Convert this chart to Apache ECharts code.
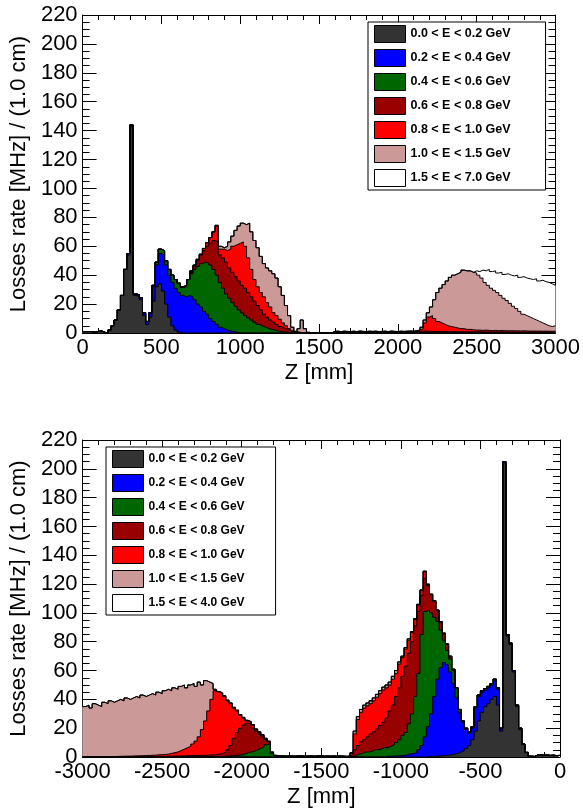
<!DOCTYPE html>
<html>
<head>
<meta charset="utf-8">
<script src="https://cdn.jsdelivr.net/npm/echarts@6/dist/echarts.min.js"></script>
<style>
  html, body { margin: 0; padding: 0; background: #fff; }
  #chart { width: 583px; height: 812px; }
</style>
</head>
<body>
<div id="chart"></div>
<script>
  // histograms in 20 mm bins, 150 bins per panel
  var BIN = 20;
  var NBINS = 150;

  var namesTop = ['0.0 < E < 0.2 GeV', '0.2 < E < 0.4 GeV', '0.4 < E < 0.6 GeV', '0.6 < E < 0.8 GeV',
    '0.8 < E < 1.0 GeV', '1.0 < E < 1.5 GeV', '1.5 < E < 7.0 GeV'];
  var namesBot = ['0.0 < E < 0.2 GeV', '0.2 < E < 0.4 GeV', '0.4 < E < 0.6 GeV', '0.6 < E < 0.8 GeV',
    '0.8 < E < 1.0 GeV', '1.0 < E < 1.5 GeV', '1.5 < E < 4.0 GeV'];
  var colors = ['#333333', '#0000ff', '#006600', '#990000', '#ff0000', '#cc9999', '#ffffff'];

  // top edge of each band in the stack: [first bin, values...]
  // top panel, Z = 0 .. 3000 mm
  var topBlack = [[0, [1, 1, 1, 0.5, 1, 1.5, 0.5, 0, 2, 5, 9, 16, 26, 44, 54, 143, 26, 25, 23, 12, 6, 11, 22, 32,
    34, 29, 20, 11, 5, 2, 0.5]]];
  var topBlue = [[14, [55, 144, 27, 26.5, 24.5, 14, 8, 14, 32, 47, 55, 54, 47, 40, 35, 31, 28, 26, 25, 26, 25, 23, 20,
    18, 15, 13, 10, 8, 6, 4, 3, 2, 1.5, 1, 0.5]]];
  var topGreen = [[22, [33, 49, 58, 57, 50, 44, 40, 37, 34, 31.5, 32, 37, 41, 44, 46, 48, 49, 48.5, 47, 44, 40, 35,
    31, 27, 24, 21, 18.5, 16, 14, 12, 10.5, 9, 7.5, 6, 5, 4, 3.2, 2.5, 2, 1.5, 1, 0.7, 0.5]],
    [79, [0.5, 0.6, 0.5, 0.7, 0.5, 0.6, 0.6, 0.5, 0.7, 0.6, 0.5, 0.6, 0.7, 0.5, 0.6, 0.5, 0.6, 0.7, 0.5, 0.6, 0.5,
      0.6, 0.5, 0.6, 0.7, 0.5, 0.6, 0.5]]];
  var topDarkRed = [[30, [34.5, 32, 33, 37, 42, 46, 50, 54, 57, 60, 62, 64, 63, 54, 52, 49, 45, 42, 39, 36, 33, 31,
    28, 25, 22, 19, 16, 13, 11, 9, 7.5, 6, 4.5, 3.5, 2.5, 1.5, 1, 0.5]],
    [79, [0.9, 1, 0.8, 1, 0.9, 0.9, 1, 0.8, 1, 0.9, 0.8, 1, 0.9, 1, 0.9, 0.8, 1, 0.9, 1, 0.9, 0.8, 1, 0.9, 1, 1,
      0.9, 1.1, 1.2]],
    [107, [1.2, 1.3, 1.2, 1.1, 1, 1, 0.9, 1, 0.9, 0.9, 1, 0.8, 0.9, 0.9, 0.8, 0.9, 0.8, 0.8, 0.9, 0.8, 0.7, 0.8,
      0.8, 0.7, 0.8, 0.7, 0.7, 0.8, 0.7, 0.7, 0.6, 0.7, 0.7, 0.6, 0.7, 0.6, 0.6, 0.7, 0.6, 0.6, 0.6, 0.5, 0.6]]];
  var topRed = [[34, [43, 47, 51, 54.5, 58.5, 62.5, 66, 70, 74, 58, 58, 57, 58, 60, 61, 62, 63, 60, 52, 44, 37, 32,
    28, 25, 21, 18, 14, 12, 9.5, 7, 5, 3, 1.5, 1, 0.5]],
    [79, [1.1, 1.2, 1, 1.2, 1.1, 1, 1.2, 1, 1.3, 1.1, 1, 1.2, 1.1, 1.2, 1, 1.1, 1.2, 1, 1.3, 1.1, 1, 1.2, 1.1, 1.2,
      1.3, 1.2, 1.5, 2]],
    [107, [3, 7, 11, 12, 10, 8, 7, 6, 5, 4.5, 4, 3.5, 3, 3, 2.5, 2.5, 2.2, 2, 2, 1.8, 2, 1.8, 1.7, 1.8, 1.6, 1.7,
      1.6, 1.5, 1.6, 1.5, 1.5, 1.4, 1.5, 1.4, 1.3, 1.4, 1.3, 1.3, 1.2, 1.3, 1.2, 1.2, 1.2]]];
  var topPink = [[42, [74.5, 60, 59, 60, 63, 67, 71, 74, 76, 75, 76, 70, 64, 59, 53, 48, 45, 43, 41, 38, 32, 26,
    19, 12, 4, 1, 3, 9, 3, 0.5]],
    [107, [4, 9, 14, 18, 23, 28, 31, 33.5, 36, 38.5, 40, 41, 42, 43.5, 43, 43, 42, 41.5, 40, 38, 35, 33, 31, 29.5,
      28, 26, 24, 22.5, 20.5, 18.5, 17, 15, 13, 12, 11, 10, 9, 8, 7, 6, 5, 4.5, 5]]];
  var topWhite = [[124, [43, 42.5, 43.5, 43, 44, 42.5, 43, 41.5, 42, 40.5, 41, 40, 39.5, 40, 38.5, 39, 38, 37.5,
    37, 37.5, 36, 36.5, 35.5, 35, 34, 33]]];

  // bottom panel, Z = -3000 .. 0 mm
  var botBlack = [[108, [0.3, 0.4, 0.5, 0.6, 0.8, 1, 1.2, 1.5, 2, 2.5, 3.5, 4.5, 6, 8, 12, 18, 25, 31, 35, 37, 40,
    42, 36, 18, 204, 84, 78, 59, 35, 19, 8.5, 3, 0.5, 0.4, 1.4, 1.4, 1.2, 1.3, 1.1, 1.2, 1, 1.1]]];
  var botBlue = [[60, [0.8, 0.6, 0.7, 0.5, 0.6, 0.6, 0.5, 0.7, 0.6, 0.5, 0.6, 0.6, 0.5, 0.6, 0.7, 0.5, 0.6, 0.5,
    0.6, 0.5, 0.6, 0.5, 0.4, 0.5]],
    [95, [0.5, 0.5, 0.6, 0.7, 0.8, 1, 1.5, 2, 2.5, 3, 5, 8, 14, 21, 30, 42, 54, 62, 65.5, 64, 59, 51, 41, 31, 24,
      19, 16.5, 20, 34, 42, 45, 46.5, 48, 50, 53, 47, 19.5, 205, 85, 79, 60, 36, 20, 9, 3.2]]];
  var botGreen = [[44, [0.5, 0.7, 0.8, 1, 1.2, 1.5, 2, 3, 3.5, 4, 5, 6, 7, 8.5, 9.5, 2.5, 0.5]],
    [84, [0.3, 1, 2, 2.5, 3.5, 3.5, 4, 5, 5, 5.5, 6.5, 6.5, 7.5, 8.5, 10, 12, 15, 17, 23, 30, 42, 58, 85, 101, 102,
      100, 97, 94, 88, 81, 74, 68, 60, 48, 33, 25, 20, 17.5, 21, 35, 43, 46, 47.5, 49, 51, 54, 48, 20]]];
  var botDarkRed = [[20, [0.3, 0.3, 0.4, 0.3, 0.5, 0.4, 0.6, 0.5, 0.7, 0.6, 0.8, 0.7, 0.9, 0.9, 1, 1.1, 1, 1.2,
    1.2, 1.3, 1.4, 1.5, 2, 2.5, 3.5, 5, 8, 13, 17, 20, 22, 23.5, 23, 20, 18, 16, 14, 12, 10.5, 3, 1]],
    [84, [1.5, 5, 8, 10.5, 12, 14, 16, 17.5, 19.5, 22, 24, 27, 32, 36, 42, 48, 56, 63, 72, 80, 91, 101, 112, 124,
      119, 112.5, 108, 101.5, 93.5, 85.5, 78, 69.5, 60.5, 47.5]]];
  var botRed = [[10, [0.4, 0.5, 0.5, 0.6, 0.6, 0.7, 0.8, 0.8, 0.9, 1, 1.1, 1.2, 1.3, 1.5, 1.6, 1.8, 2, 2.5, 3,
    3.5, 4.5, 5.5, 6.5, 7.5, 9, 11, 14, 19, 25, 32, 40, 46, 45, 44, 42, 39, 37, 34, 32, 29, 27, 25, 24, 22, 19, 17,
    15, 12.5, 10.8, 3.2, 1]],
    [84, [2.5, 16, 26, 31, 34, 35.5, 37, 39, 41.5, 44, 46.5, 48, 50, 54, 58, 64.5, 69, 75, 81, 86.5, 95.5, 105.5,
      115.5, 128.5, 119.5, 113, 108.5, 102, 94, 86, 78.5, 70, 61, 48]]];
  var botPink = [[0, [35, 36, 34, 37, 36, 35, 38, 37, 39, 38, 39, 40, 39, 41, 40, 41, 42, 41, 43, 42, 43, 44, 43,
    45, 44, 46, 47, 46, 48, 47, 49, 50, 48, 50, 51, 49, 52, 50, 53, 52, 51, 47, 45.5, 44.5, 42.5, 39.5, 37.5, 34.5,
    32.5, 29.5, 27.5, 25.5, 24.5, 22.5, 19.5, 17.5, 15.5, 13, 11, 3.5, 1.2]],
    [84, [3, 18, 28, 33, 36, 37.5, 39, 41, 43.5, 46, 48.5, 50, 52, 56, 60, 66, 70, 76, 82, 87, 96, 106, 116, 129,
      120, 113, 108.5, 102, 94, 86, 78.5, 70, 61, 48]]];
  var botWhite = [];

  var font = "'Liberation Sans', Arial, Helvetica, sans-serif";

  // a band never lies below the one under it in the stack
  function bandEdges(bands) {
    var below = new Array(NBINS).fill(0);
    return bands.map(function (segs) {
      var edge = below.slice();
      segs.forEach(function (seg) {
        seg[1].forEach(function (v, k) {
          var i = seg[0] + k;
          edge[i] = Math.max(edge[i], v);
        });
      });
      below = edge;
      return edge;
    });
  }

  function histSeries(bands, names, zmin, axisIndex) {
    var edges = bandEdges(bands);
    var list = [];
    for (var b = edges.length - 1; b >= 0; b--) {
      var pts = edges[b].map(function (v, i) { return [zmin + i * BIN, v]; });
      pts.push([zmin + NBINS * BIN, edges[b][NBINS - 1]]);
      list.push({
        name: names[b],
        type: 'line',
        step: 'end',
        xAxisIndex: axisIndex,
        yAxisIndex: axisIndex,
        data: pts,
        symbol: 'none',
        silent: true,
        lineStyle: { color: '#000', width: 1 },
        itemStyle: { color: colors[b] },
        areaStyle: { color: colors[b], opacity: 1 }
      });
    }
    return list;
  }

  function xAxis(grid, zmin, pos) {
    var main = pos === 'bottom';
    return {
      gridIndex: grid,
      type: 'value',
      min: zmin,
      max: zmin + 3000,
      interval: 500,
      position: pos,
      axisLine: { onZero: false, lineStyle: { color: '#000', width: 1 } },
      axisTick: { inside: true, length: 9, lineStyle: { color: '#000' } },
      minorTick: { show: true, splitNumber: 5, length: 5, lineStyle: { color: '#000' } },
      splitLine: { show: false },
      axisLabel: {
        show: main, margin: 4, fontSize: 22, color: '#000', fontFamily: font,
        formatter: function (v) { return String(v); }
      },
      name: main ? 'Z [mm]' : '',
      nameLocation: 'middle',
      nameGap: 29,
      nameTextStyle: { fontSize: 22, color: '#000', fontFamily: font }
    };
  }

  function yAxis(grid, pos) {
    var main = pos === 'left';
    return {
      gridIndex: grid,
      type: 'value',
      min: 0,
      max: 220,
      interval: 20,
      position: pos,
      axisLine: { onZero: false, lineStyle: { color: '#000', width: 1 } },
      axisTick: { inside: true, length: 14, lineStyle: { color: '#000' } },
      minorTick: { show: true, splitNumber: 4, length: 7, lineStyle: { color: '#000' } },
      splitLine: { show: false },
      axisLabel: { show: main, margin: 5, fontSize: 22, color: '#000', fontFamily: font },
      name: main ? 'Losses rate [MHz] / (1.0 cm)' : '',
      nameLocation: 'middle',
      nameGap: 48,
      nameTextStyle: { fontSize: 22, color: '#000', fontFamily: font }
    };
  }

  function legend(names, left, top, padRight, size) {
    return {
      data: names,
      orient: 'vertical',
      left: left,
      top: top,
      icon: 'rect',
      itemWidth: 31,
      itemHeight: 17,
      itemGap: 6,
      padding: [3, padRight, 3, 6],
      borderColor: '#000',
      borderWidth: 1,
      backgroundColor: '#fff',
      selectedMode: false,
      itemStyle: { borderColor: '#000', borderWidth: 1 },
      textStyle: { fontFamily: font, fontWeight: 'bold', fontSize: size, color: '#000' }
    };
  }

  var chart = echarts.init(document.getElementById('chart'));
  chart.setOption({
    animation: false,
    backgroundColor: '#fff',
    grid: [
      { left: 81, top: 15, width: 479, height: 318 },
      { left: 81, top: 440, width: 479, height: 317 }
    ],
    // axes 0,2: bottom/left with labels; 1,3: top/right frame ticks only
    xAxis: [xAxis(0, 0, 'bottom'), xAxis(0, 0, 'top'), xAxis(1, -3000, 'bottom'), xAxis(1, -3000, 'top')],
    yAxis: [yAxis(0, 'left'), yAxis(0, 'right'), yAxis(1, 'left'), yAxis(1, 'right')],
    legend: [legend(namesTop, 368, 22, 35, 12.5), legend(namesBot, 106, 447, 31, 12)],
    series: histSeries([topBlack, topBlue, topGreen, topDarkRed, topRed, topPink, topWhite], namesTop, 0, 0)
      .concat(histSeries([botBlack, botBlue, botGreen, botDarkRed, botRed, botPink, botWhite], namesBot, -3000, 2))
  });
</script>
</body>
</html>
